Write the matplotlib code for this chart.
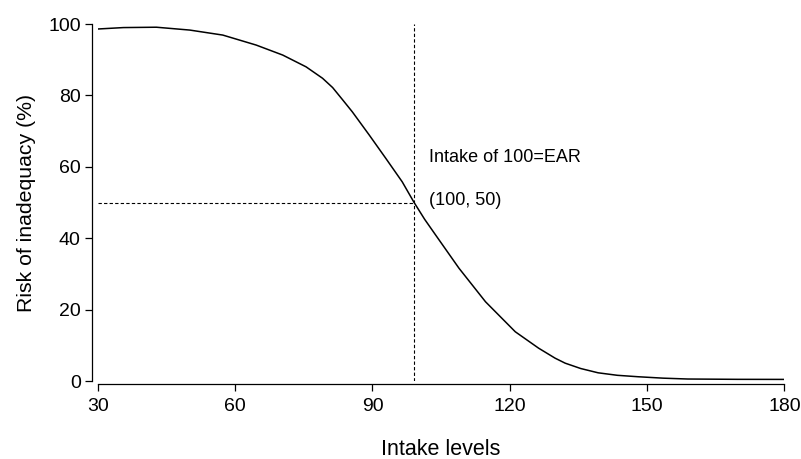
import matplotlib
matplotlib.use("Agg")
import matplotlib.pyplot as plt

plt.rcParams['font.family'] = ['Liberation Sans', 'DejaVu Sans']

intake = [30, 35.6, 42.8, 50.1, 57.3, 64.6, 70.4, 75.5, 79.1, 81.3, 83.4, 85.6, 89.3, 92.9, 96.5, 99.1,
          101.4, 103.8, 108.9, 114.7, 121.2, 126.3, 129.9, 132.1, 135.5, 139.3, 143.5, 148.0, 153.5,
          158.9, 169.8, 180]
risk = [98.6, 99.0, 99.1, 98.3, 96.9, 94.1, 91.3, 88.0, 84.8, 82.2, 78.9, 75.4, 68.9, 62.4, 55.8, 50.0,
        45.3, 40.9, 31.6, 22.2, 13.8, 9.2, 6.4, 5.0, 3.5, 2.3, 1.6, 1.2, 0.8,
        0.56, 0.47, 0.45]
ear_x = 99
ear_y = 50
xticks = [30, 60, 90, 120, 150, 180]
yticks = [0, 20, 40, 60, 80, 100]

fig = plt.figure(figsize=(8.01, 4.59), dpi=100)
ax = fig.add_axes([0.1221, 0.1699, 0.8572, 0.7778])

ax.plot(intake, risk, color='black', lw=1.1, solid_joinstyle='round')
ax.plot([ear_x, ear_x], [0, 100], color='black', lw=0.8, ls=(0, (3, 2)))
ax.plot([30, ear_x], [ear_y, ear_y], color='black', lw=0.8, ls=(0, (3, 2)))

ax.text(102.3, 62.7, 'Intake of 100=EAR', fontsize=13, va='center', ha='left')
ax.text(102.3, 50.6, '(100, 50)', fontsize=13, va='center', ha='left')

ax.set_xlim(30, 180)
ax.set_ylim(0, 100)
ax.set_xticks(xticks)
ax.set_yticks(yticks)
ax.tick_params(axis='both', labelsize=14, length=5, width=0.9, color='black')
ax.tick_params(axis='y', pad=3)
ax.tick_params(axis='x', pad=5)

for s in ['top', 'right']:
    ax.spines[s].set_visible(False)
ax.spines['left'].set_position(('outward', 4.3))
ax.spines['bottom'].set_position(('outward', 2.3))
ax.spines['left'].set_bounds(0, 100)
ax.spines['bottom'].set_bounds(30, 180)
for s in ['left', 'bottom']:
    ax.spines[s].set_linewidth(0.9)

ax.set_ylabel('Risk of inadequacy (%)', fontsize=15.3, labelpad=9)
ax.set_xlabel('Intake levels', fontsize=15.5, labelpad=17)

fig.savefig('out.png', dpi=100)
